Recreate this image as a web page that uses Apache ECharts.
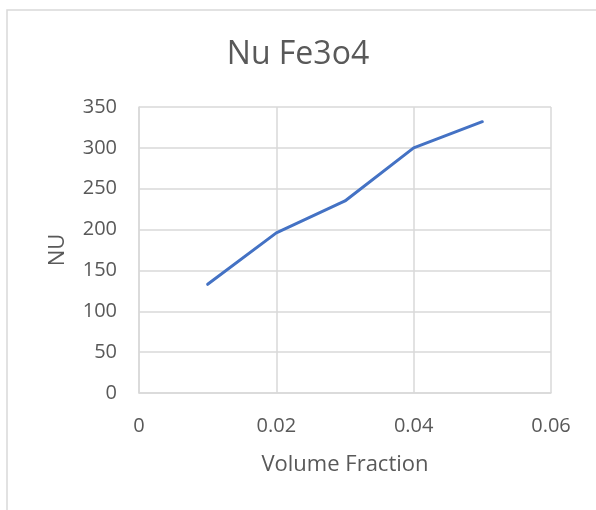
<!DOCTYPE html>
<html>
<head>
<meta charset="utf-8">
<script src="https://cdn.jsdelivr.net/npm/echarts@6/dist/echarts.min.js"></script>
<style>
  html, body { margin: 0; padding: 0; background: #ffffff; }
  #chart { width: 596px; height: 510px; }
</style>
</head>
<body>
<div id="chart"></div>
<script>
const chartTitle = 'Nu Fe3o4';
const xAxisName = 'Volume Fraction';
const yAxisName = 'NU';
const volumeFraction = [0.01, 0.02, 0.03, 0.04, 0.05];
const nuValues = [133, 196, 235, 300, 332];
const xTicks = [0, 0.02, 0.04, 0.06];
const xTickLabels = ['0', '0.02', '0.04', '0.06'];
const yTicks = [0, 50, 100, 150, 200, 250, 300, 350];

const FONT = '"Open Sans", "Liberation Sans", sans-serif';
const TEXT = '#595959';
const GRID = '#d9d9d9';

const chart = echarts.init(document.getElementById('chart'), null, { renderer: 'canvas' });
chart.setOption({
  animation: false,
  backgroundColor: '#ffffff',
  graphic: [{
    type: 'rect',
    shape: { x: 7, y: 10, width: 620, height: 540 },
    style: { fill: 'none', stroke: GRID, lineWidth: 1.5 },
    silent: true
  }],
  title: {
    text: chartTitle,
    left: 'center',
    top: 34,
    textStyle: { fontFamily: FONT, fontSize: 32, fontWeight: 'normal', color: TEXT }
  },
  grid: { left: 139, top: 107, right: 45, bottom: 117 },
  xAxis: {
    type: 'value',
    min: xTicks[0],
    max: xTicks[xTicks.length - 1],
    interval: xTicks[1] - xTicks[0],
    name: xAxisName,
    nameLocation: 'middle',
    nameGap: 61,
    nameTextStyle: { fontFamily: FONT, fontSize: 22, color: TEXT },
    axisLine: { show: true, lineStyle: { color: GRID, width: 1.5 } },
    axisTick: { show: false },
    axisLabel: {
      margin: 23,
      fontFamily: FONT, fontSize: 20, color: TEXT,
      formatter: function (v) {
        const i = xTicks.findIndex(t => Math.abs(t - v) < 1e-9);
        return i >= 0 ? xTickLabels[i] : '';
      }
    },
    splitLine: { show: true, lineStyle: { color: GRID, width: 1.5 } }
  },
  yAxis: {
    type: 'value',
    min: yTicks[0],
    max: yTicks[yTicks.length - 1],
    interval: yTicks[1] - yTicks[0],
    name: yAxisName,
    nameLocation: 'middle',
    nameGap: 70,
    nameTextStyle: { fontFamily: FONT, fontSize: 22, color: TEXT },
    axisLine: { show: true, lineStyle: { color: GRID, width: 1.5 } },
    axisTick: { show: false },
    axisLabel: { margin: 22, fontFamily: FONT, fontSize: 20, color: TEXT },
    splitLine: { show: true, lineStyle: { color: GRID, width: 1.5 } }
  },
  series: [{
    type: 'line',
    data: volumeFraction.map((x, i) => [x, nuValues[i]]),
    showSymbol: false,
    symbol: 'none',
    lineStyle: { color: '#4472C4', width: 3, cap: 'round', join: 'round' },
    itemStyle: { color: '#4472C4' }
  }]
});
</script>
</body>
</html>
